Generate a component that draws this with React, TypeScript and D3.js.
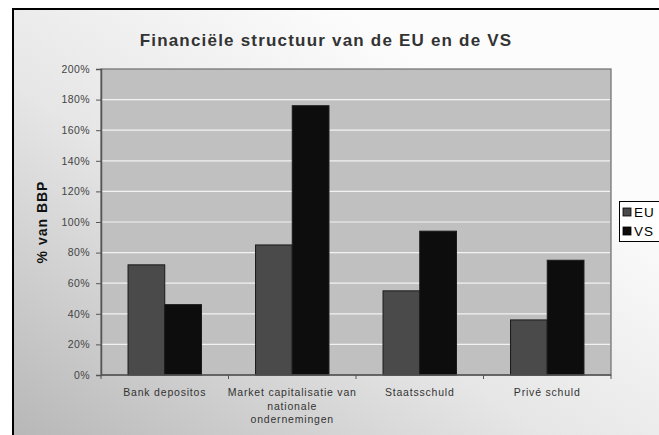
import React, { useEffect, useRef } from 'react';
import * as d3 from 'd3';

const categories: string[][] = [
  ['Bank depositos'],
  ['Market capitalisatie van', 'nationale', 'ondernemingen'],
  ['Staatsschuld'],
  ['Privé schuld'],
];
const seriesNames = ['EU', 'VS'];
const euValues = [72, 85, 55, 36];
const vsValues = [46, 176, 94, 75];
const yTicks = [0, 20, 40, 60, 80, 100, 120, 140, 160, 180, 200];

const colors: Record<string, string> = { EU: '#4a4a4a', VS: '#0d0d0d' };
const FONT = '"Liberation Sans", Arial, sans-serif';

const App = () => {
  const ref = useRef<SVGSVGElement | null>(null);

  useEffect(() => {
    const width = 659;
    const height = 435;
    const margin = { top: 69, right: 48, bottom: 60, left: 101 };

    const svg = d3.select(ref.current);
    svg.selectAll('*').remove();

    // achtergrond met verloop
    const defs = svg.append('defs');
    const grad = defs
      .append('linearGradient')
      .attr('id', 'bg')
      .attr('x1', 0)
      .attr('y1', 1)
      .attr('x2', 0.75)
      .attr('y2', 0.25);
    grad.append('stop').attr('offset', 0).attr('stop-color', '#b6b6b6');
    grad.append('stop').attr('offset', 0.55).attr('stop-color', '#e6e6e6');
    grad.append('stop').attr('offset', 1).attr('stop-color', '#fcfcfc');

    svg
      .append('rect')
      .attr('x', 13)
      .attr('y', 9)
      .attr('width', width)
      .attr('height', height)
      .attr('fill', 'url(#bg)')
      .attr('stroke', '#000')
      .attr('stroke-width', 2);

    const keys = categories.map((c) => c.join(' '));
    const x = d3
      .scaleBand()
      .domain(keys)
      .range([margin.left, width - margin.right])
      .paddingInner(0.424)
      .paddingOuter(0.212);
    const xs = d3.scaleBand().domain(seriesNames).range([0, x.bandwidth()]);
    const y = d3
      .scaleLinear()
      .domain([0, 200])
      .range([height - margin.bottom, margin.top]);

    const x0 = margin.left;
    const x1 = width - margin.right;

    // plotgebied
    svg
      .append('rect')
      .attr('x', x0)
      .attr('y', y(200))
      .attr('width', x1 - x0)
      .attr('height', y(0) - y(200))
      .attr('fill', '#c0c0c0')
      .attr('stroke', '#6e6e6e')
      .attr('stroke-width', 1.2);

    // rasterlijnen
    svg
      .append('g')
      .selectAll('line')
      .data(yTicks.filter((t) => t > 0 && t < 200))
      .join('line')
      .attr('x1', x0 + 1)
      .attr('x2', x1 - 1)
      .attr('y1', (d) => y(d))
      .attr('y2', (d) => y(d))
      .attr('stroke', '#f2f2f2')
      .attr('stroke-width', 1.2);

    // staven
    const rows = keys.map((k, i) => ({ key: k, EU: euValues[i], VS: vsValues[i] }));
    svg
      .append('g')
      .selectAll('g')
      .data(rows)
      .join('g')
      .attr('transform', (d) => `translate(${x(d.key)},0)`)
      .selectAll('rect')
      .data((d) => seriesNames.map((s) => ({ s, v: (d as any)[s] as number })))
      .join('rect')
      .attr('x', (d) => xs(d.s)!)
      .attr('y', (d) => y(d.v))
      .attr('width', xs.bandwidth())
      .attr('height', (d) => y(0) - y(d.v))
      .attr('fill', (d) => colors[d.s])
      .attr('stroke', '#1a1a1a')
      .attr('stroke-width', 1);

    // y-as
    const yAxis = svg
      .append('g')
      .attr('transform', `translate(${x0},0)`)
      .call(
        d3
          .axisLeft(y)
          .tickValues(yTicks)
          .tickSize(5)
          .tickPadding(6)
          .tickFormat((d) => `${d}%`)
      );
    yAxis.select('.domain').attr('stroke', '#555').attr('stroke-width', 1.5);
    yAxis.selectAll('.tick line').attr('stroke', '#555');
    yAxis
      .selectAll('.tick text')
      .attr('fill', '#444')
      .attr('font-size', 10.5)
      .attr('letter-spacing', 0.4)
      .attr('font-family', FONT);

    // x-as
    const bottom = y(0);
    svg
      .append('line')
      .attr('x1', x0)
      .attr('x2', x1)
      .attr('y1', bottom)
      .attr('y2', bottom)
      .attr('stroke', '#555')
      .attr('stroke-width', 1.5);
    const bounds = keys.map((k) => x(k)! - (x.step() * x.paddingInner()) / 2).concat([x1]);
    svg
      .append('g')
      .selectAll('line')
      .data(bounds)
      .join('line')
      .attr('x1', (d) => d)
      .attr('x2', (d) => d)
      .attr('y1', bottom)
      .attr('y2', bottom + 4)
      .attr('stroke', '#555');

    const labels = svg
      .append('g')
      .selectAll('text')
      .data(categories)
      .join('text')
      .attr('x', (d) => x(d.join(' '))! + x.bandwidth() / 2)
      .attr('y', bottom + 21)
      .attr('text-anchor', 'middle')
      .attr('font-size', 10.5)
      .attr('letter-spacing', 0.8)
      .attr('font-family', FONT)
      .attr('fill', '#333');
    labels.each(function (d) {
      const t = d3.select(this);
      d.forEach((line, i) => {
        t.append('tspan')
          .attr('x', t.attr('x'))
          .attr('dy', i === 0 ? 0 : 13.5)
          .text(line);
      });
    });

    // titels
    svg
      .append('text')
      .attr('x', 326)
      .attr('y', 46)
      .attr('text-anchor', 'middle')
      .attr('font-size', 17)
      .attr('letter-spacing', 1.2)
      .attr('font-weight', 'bold')
      .attr('font-family', FONT)
      .attr('fill', '#333')
      .text('Financiële structuur van de EU en de VS');

    svg
      .append('text')
      .attr('transform', `translate(47,${(y(0) + y(200)) / 2}) rotate(-90)`)
      .attr('text-anchor', 'middle')
      .attr('font-size', 14)
      .attr('letter-spacing', 1)
      .attr('font-weight', 'bold')
      .attr('font-family', FONT)
      .attr('fill', '#111')
      .text('% van BBP');

    // legenda
    const legend = svg.append('g').attr('transform', 'translate(619,201)');
    legend
      .append('rect')
      .attr('x', 0.5)
      .attr('y', 0.5)
      .attr('width', 60)
      .attr('height', 40)
      .attr('fill', '#fff')
      .attr('stroke', '#000');
    const item = legend
      .selectAll('g.item')
      .data(seriesNames)
      .join('g')
      .attr('class', 'item')
      .attr('transform', (d, i) => `translate(4,${6 + i * 19})`);
    item
      .append('rect')
      .attr('width', 8)
      .attr('height', 8)
      .attr('y', 1)
      .attr('fill', (d) => colors[d])
      .attr('stroke', '#000')
      .attr('stroke-width', 0.8);
    item
      .append('text')
      .attr('x', 11)
      .attr('y', 10)
      .attr('font-size', 13.5)
      .attr('letter-spacing', 1)
      .attr('font-family', FONT)
      .attr('fill', '#000')
      .text((d) => d);
  }, []);

  return (
    <svg
      ref={ref}
      width={659}
      height={435}
      style={{ position: 'absolute', left: 0, top: 0, background: '#fff' }}
    />
  );
};

export default App;
